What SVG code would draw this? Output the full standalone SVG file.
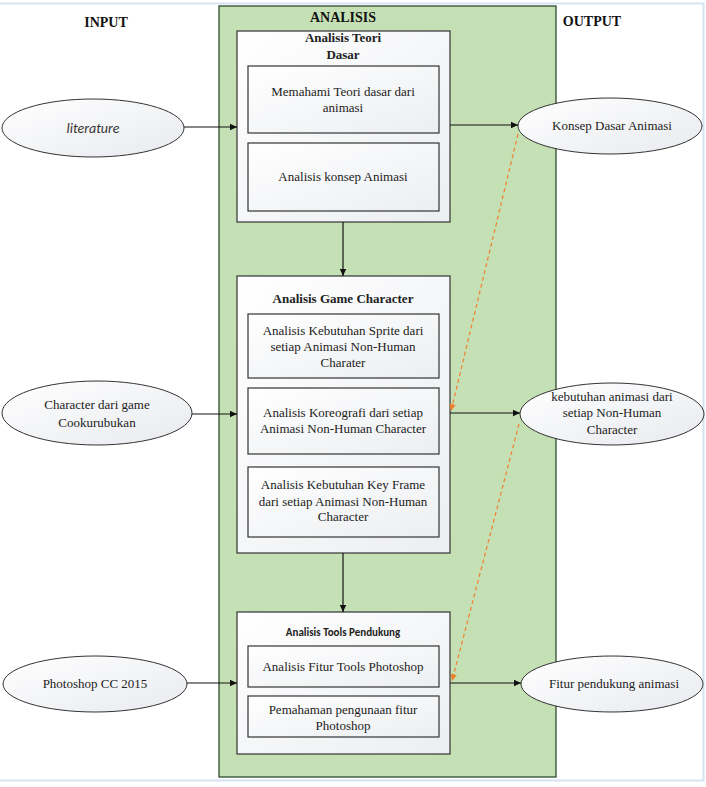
<svg xmlns="http://www.w3.org/2000/svg" width="706" height="787" viewBox="0 0 706 787" font-family="'Liberation Serif', 'Times New Roman', serif">
<defs>
<linearGradient id="gBox" x1="0" y1="0" x2="1" y2="1">
<stop offset="0" stop-color="#ffffff"/><stop offset="1" stop-color="#eceef1"/>
</linearGradient>
<linearGradient id="gEll" x1="0" y1="0" x2="1" y2="1">
<stop offset="0" stop-color="#ffffff"/><stop offset="1" stop-color="#e8eaee"/>
</linearGradient>
<marker id="ah" markerWidth="8" markerHeight="8" refX="7" refY="4" orient="auto" markerUnits="userSpaceOnUse">
<path d="M0,0.8 L7,4 L0,7.2 Z" fill="#111"/>
</marker>
<marker id="ahO" markerWidth="8" markerHeight="8" refX="7" refY="4" orient="auto" markerUnits="userSpaceOnUse">
<path d="M0,0.8 L7,4 L0,7.2 Z" fill="#f07f2e"/>
</marker>
<style>
.t{font-size:13px;fill:#222;text-anchor:middle}
.b{font-weight:bold}
.h{font-size:14px;font-weight:bold;fill:#111;text-anchor:middle}
.s{font-family:Carlito,'Liberation Sans',Arial,sans-serif;font-size:11px;font-weight:bold;fill:#222;text-anchor:middle}
.box{fill:url(#gBox);stroke:#333;stroke-width:1.2}
.ell{fill:url(#gEll);stroke:#333;stroke-width:1}
.ln{stroke:#111;stroke-width:1.2;fill:none;marker-end:url(#ah)}
.dl{stroke:#f07f2e;stroke-width:1.2;stroke-dasharray:4 3;fill:none;marker-end:url(#ahO)}
</style>
</defs>
<rect x="0" y="0" width="706" height="787" fill="#ffffff"/>
<path d="M0,3.5 H703.5 V780.5 H0" fill="none" stroke="#d5e3f1" stroke-width="2"/>

<text class="h" x="106" y="27">INPUT</text>
<text class="h" x="592" y="26">OUTPUT</text>

<g id="analisis">
<rect x="219" y="6" width="337" height="771" fill="#c6e0b5" stroke="#2f4a2f" stroke-width="1.3"/>
<text class="h" x="343" y="22">ANALISIS</text>
</g>

<g id="teori">
<rect class="box" x="237" y="31" width="213" height="191"/>
<text class="t b" x="343" y="42">Analisis Teori</text>
<text class="t b" x="343" y="59">Dasar</text>
<rect class="box" x="248" y="66" width="191" height="67"/>
<text class="t" x="343" y="96">Memahami Teori dasar dari</text>
<text class="t" x="343" y="112">animasi</text>
<rect class="box" x="248" y="143" width="191" height="68"/>
<text class="t" x="343" y="181">Analisis konsep Animasi</text>
</g>

<g id="game">
<rect class="box" x="237" y="276" width="213" height="277"/>
<text class="t b" x="343" y="303">Analisis Game Character</text>
<rect class="box" x="248" y="314" width="191" height="64"/>
<text class="t" x="343" y="335">Analisis Kebutuhan Sprite dari</text>
<text class="t" x="343" y="351">setiap Animasi Non-Human</text>
<text class="t" x="343" y="367">Charater</text>
<rect class="box" x="248" y="388" width="191" height="66"/>
<text class="t" x="343" y="417">Analisis Koreografi dari setiap</text>
<text class="t" x="343" y="433">Animasi Non-Human Character</text>
<rect class="box" x="248" y="467" width="191" height="70"/>
<text class="t" x="343" y="489">Analisis Kebutuhan Key Frame</text>
<text class="t" x="343" y="506">dari setiap Animasi Non-Human</text>
<text class="t" x="343" y="521">Character</text>
</g>

<g id="tools">
<rect class="box" x="237" y="612" width="213" height="142"/>
<text class="s" x="343" y="636">Analisis Tools Pendukung</text>
<rect class="box" x="248" y="646" width="191" height="41"/>
<text class="t" x="343" y="671">Analisis Fitur Tools Photoshop</text>
<rect class="box" x="248" y="696" width="191" height="41"/>
<text class="t" x="343" y="714">Pemahaman pengunaan fitur</text>
<text class="t" x="343" y="730">Photoshop</text>
</g>

<g id="in-literature">
<ellipse class="ell" cx="93" cy="128" rx="91" ry="29"/>
<text x="93" y="133" font-family="Carlito, 'Liberation Sans', Arial, sans-serif" font-size="14" font-style="italic" fill="#333" text-anchor="middle">literature</text>
</g>
<g id="in-character">
<ellipse class="ell" cx="97" cy="413" rx="95" ry="32"/>
<text class="t" x="97" y="409">Character dari game</text>
<text class="t" x="97" y="427">Cookurubukan</text>
</g>
<g id="in-photoshop">
<ellipse class="ell" cx="95" cy="684" rx="92" ry="28"/>
<text class="t" x="95" y="688">Photoshop CC 2015</text>
</g>

<g id="out-konsep">
<ellipse class="ell" cx="610" cy="126" rx="92" ry="28"/>
<text class="t" x="612" y="130">Konsep Dasar Animasi</text>
</g>
<g id="out-kebutuhan">
<ellipse class="ell" cx="612" cy="414" rx="92" ry="31"/>
<text class="t" x="612" y="401">kebutuhan animasi dari</text>
<text class="t" x="612" y="417">setiap Non-Human</text>
<text class="t" x="612" y="434">Character</text>
</g>
<g id="out-fitur">
<ellipse class="ell" cx="612" cy="684" rx="91" ry="28"/>
<text class="t" x="614" y="688">Fitur pendukung animasi</text>
</g>

<g id="connectors">
<line class="ln" x1="184" y1="127" x2="237" y2="127"/>
<line class="ln" x1="192" y1="414" x2="237" y2="414"/>
<line class="ln" x1="187" y1="683" x2="237" y2="683"/>
<line class="ln" x1="450" y1="125" x2="518" y2="125"/>
<line class="ln" x1="450" y1="413" x2="520" y2="413"/>
<line class="ln" x1="450" y1="683" x2="521" y2="683"/>
<line class="ln" x1="343" y1="222" x2="343" y2="276"/>
<line class="ln" x1="343" y1="553" x2="343" y2="612"/>
<line class="dl" x1="518" y1="134" x2="451" y2="411"/>
<line class="dl" x1="519" y1="424" x2="452" y2="681"/>
</g>
</svg>
